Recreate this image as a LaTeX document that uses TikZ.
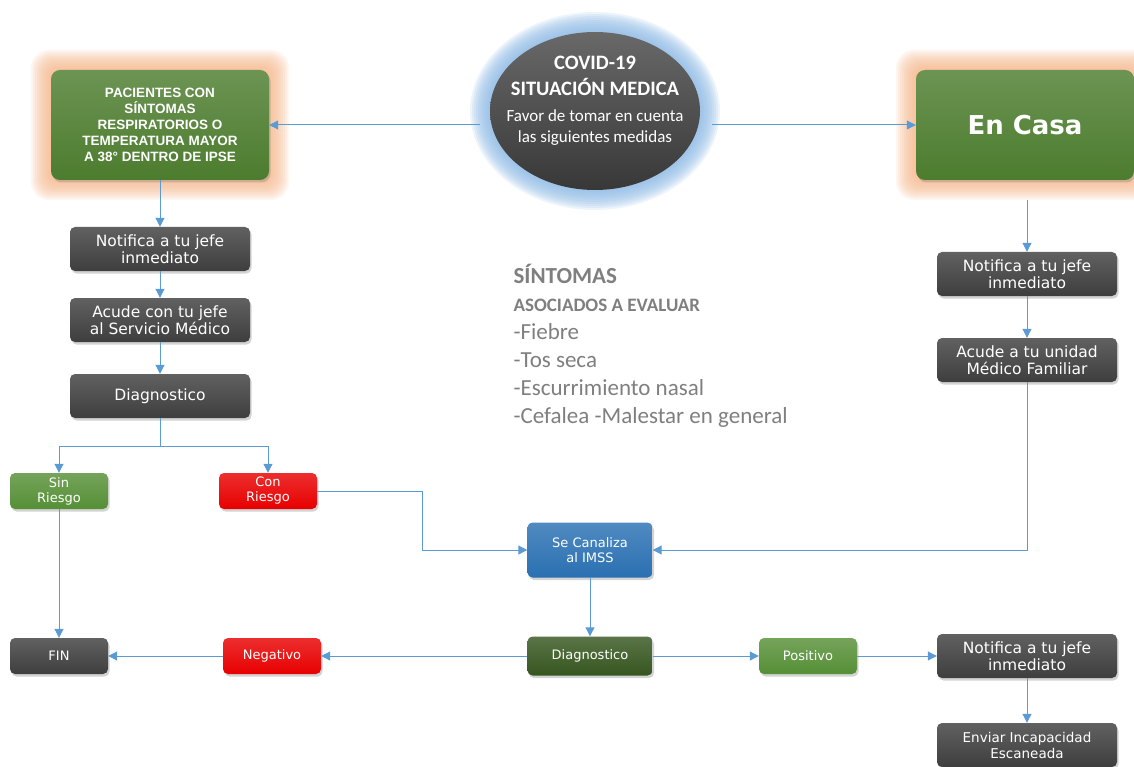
\documentclass[tikz,border=0pt]{standalone}
\usepackage{fontspec}
\setmainfont{DejaVu Sans}
\newfontfamily\calibri{Carlito}
\newfontfamily\titulo{Liberation Sans}
\usetikzlibrary{arrows.meta,shadows,shapes.geometric,backgrounds}

\definecolor{linea}{HTML}{5B9BD5}
\definecolor{gris}{HTML}{3E3E3E}
\definecolor{verde}{HTML}{4C7C2E}
\definecolor{verdeclaro}{HTML}{568F36}
\definecolor{verdeosc}{HTML}{36561F}
\definecolor{rojo}{HTML}{E80000}
\definecolor{azul}{HTML}{2A70B2}
\definecolor{naranja}{HTML}{F4B183}
\definecolor{celeste}{HTML}{8DB9E4}
\definecolor{texto}{HTML}{7F7F7F}

\tikzset{
	caja/.style = {rounded corners=5pt, draw=none, top color=#1!82!white, bottom color=#1, text=white, align=center, drop shadow={opacity=0.35, shadow xshift=1.5pt, shadow yshift=-2.5pt}},
	grande/.style = {caja=gris, minimum width=180pt, minimum height=44pt, font=\fontsize{15.5}{17}\selectfont},
	chica/.style = {caja=#1, minimum width=98pt, minimum height=36pt, font=\fontsize{13}{15}\selectfont},
	principal/.style = {caja=verde, minimum width=218pt, minimum height=110pt, rounded corners=9pt},
	flecha/.style = {draw=linea, line width=1pt, -{Triangle[width=9pt,length=9pt]}}
}

\begin{document}
\begin{tikzpicture}[x=1pt,y=-1pt]
	\useasboundingbox (0,0) rectangle (1134,767);
	\node[ellipse, minimum width=210pt, minimum height=158pt, inner sep=0pt, top color=gris!78!white, bottom color=gris!90!black] (covid) at (595,111) {};
	\node[text=white, align=center, font=\calibri\fontsize{17}{21}\selectfont] (covidtxt) at (595,101) {{\bfseries\fontsize{20.5}{25}\selectfont COVID-19}\\[5pt]{\bfseries\fontsize{20.5}{25}\selectfont SITUACIÓN MEDICA}\\[5pt]Favor de tomar en cuenta\\las siguientes medidas};
	\node[principal, font=\titulo\bfseries\fontsize{13.5}{16}\selectfont] (pac) at (160,125) {PACIENTES CON\\SÍNTOMAS\\RESPIRATORIOS O\\TEMPERATURA MAYOR\\A 38° DENTRO DE IPSE};
	\node[principal, font=\bfseries\fontsize{26}{30}\selectfont] (casa) at (1025,125) {En Casa};
	\begin{scope}[on background layer]
		\foreach \i in {1,...,10} {
			\fill[naranja, opacity=0.13, rounded corners=9pt+\i pt] ([shift={(-2*\i,-2*\i)}]pac.north west) rectangle ([shift={(2*\i,2*\i)}]pac.south east);
			\fill[naranja, opacity=0.13, rounded corners=9pt+\i pt] ([shift={(-2*\i,-2*\i)}]casa.north west) rectangle ([shift={(2*\i,2*\i)}]casa.south east);
			\fill[celeste, opacity=0.16] (covid.center) ellipse ({105+2*\i} and {79+2*\i});
		}
	\end{scope}

	\node[grande] (n1) at (160,249) {Notifica a tu jefe\\inmediato};
	\node[grande] (a1) at (160,320) {Acude con tu jefe\\al Servicio Médico};
	\node[grande] (diag1) at (160,396) {Diagnostico};
	\node[chica=verdeclaro] (sin) at (59,491) {Sin\\Riesgo};
	\node[chica=rojo] (con) at (268,491) {Con\\Riesgo};
	\node[chica=gris] (fin) at (59,656) {FIN};
	\node[chica=rojo] (neg) at (272,656) {Negativo};

	\node[grande] (n2) at (1027,274) {Notifica a tu jefe\\inmediato};
	\node[grande] (a2) at (1027,360) {Acude a tu unidad\\Médico Familiar};
	\node[chica=azul, minimum width=125pt, minimum height=55pt] (canal) at (590,550) {Se Canaliza\\al IMSS};
	\node[chica=verdeosc, minimum width=125pt, minimum height=39pt] (diag2) at (590,656) {Diagnostico};
	\node[chica=verdeclaro] (pos) at (808,656) {Positivo};
	\node[grande] (n3) at (1027,656) {Notifica a tu jefe\\inmediato};
	\node[grande, font=\fontsize{13.5}{16}\selectfont] (env) at (1027,745) {Enviar Incapacidad\\Escaneada};

	\node[anchor=north west, align=left, text=texto, font=\calibri\fontsize{23}{28}\selectfont] (sint) at (510,261) {\textbf{SÍNTOMAS}\\{\fontsize{19}{28}\selectfont\bfseries ASOCIADOS A EVALUAR}\\-Fiebre\\-Tos seca\\-Escurrimiento nasal\\-Cefalea -Malestar en general};

	\coordinate (rama) at (160,446);
	\coordinate (codo) at (422,491);

	\draw[flecha, shorten <=10pt] (pac.east -| covid.west) -- (pac.east);
	\draw[flecha, shorten <=12pt] (casa.west -| covid.east) -- (casa.west);
	\draw[flecha] (pac.south) -- (n1.north);
	\draw[flecha] (n1.south) -- (a1.north);
	\draw[flecha] (a1.south) -- (diag1.north);
	\draw[flecha] (diag1.south) -- (rama) -| (sin.north);
	\draw[flecha] (rama) -| (con.north);
	\draw[flecha] (sin.south) -- (fin.north);
	\draw[flecha] (con.east) -- (codo) |- (canal.west);
	\draw[flecha, shorten <=20pt] (casa.south -| n2.north) -- (n2.north);
	\draw[flecha] (n2.south) -- (a2.north);
	\draw[flecha] (a2.south) |- (canal.east);
	\draw[flecha] (canal.south) -- (diag2.north);
	\draw[flecha] (diag2.west) -- (neg.east);
	\draw[flecha] (neg.west) -- (fin.east);
	\draw[flecha] (diag2.east) -- (pos.west);
	\draw[flecha] (pos.east) -- (n3.west);
	\draw[flecha] (n3.south) -- (env.north);
\end{tikzpicture}
\end{document}
